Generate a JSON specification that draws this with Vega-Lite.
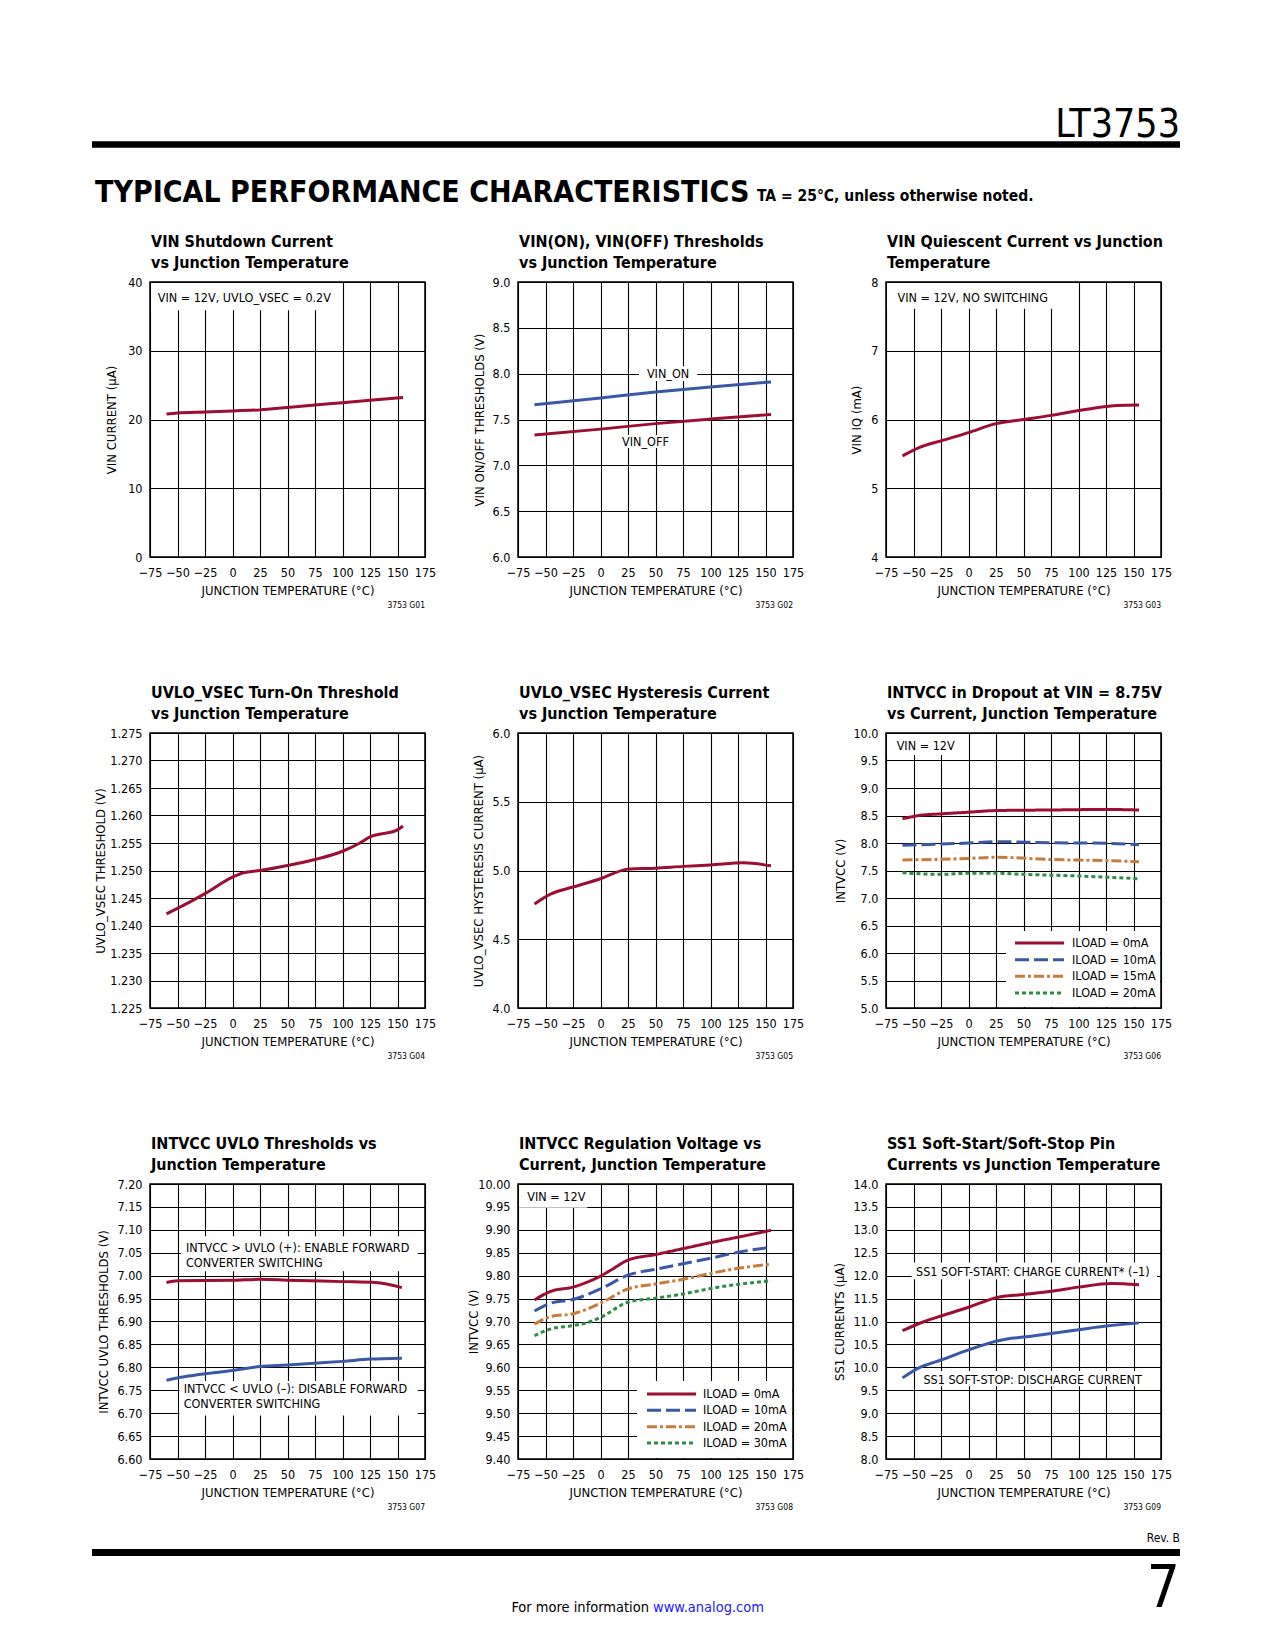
{
"$schema":"https://vega.github.io/schema/vega-lite/v6.json",
"background":"white",
"padding":{"left":88,"top":90,"right":10,"bottom":5},
"columns":3,
"spacing":{"row":176,"column":93},
"bounds":"flush",
"resolve":{"scale":{"color":"independent","strokeDash":"independent"}},
"datasets":{
"p1":[{"t":-60,"v":20.8},{"t":-50,"v":20.95},{"t":-25,"v":21.1},{"t":0,"v":21.25},{"t":25,"v":21.4},{"t":50,"v":21.75},{"t":75,"v":22.1},{"t":100,"v":22.45},{"t":125,"v":22.8},{"t":155,"v":23.2}],
"p2":[{"s":"VIN_ON","t":-60,"v":7.66},{"s":"VIN_ON","t":0,"v":7.735},{"s":"VIN_ON","t":50,"v":7.8},{"s":"VIN_ON","t":100,"v":7.855},{"s":"VIN_ON","t":155,"v":7.91},
{"s":"VIN_OFF","t":-60,"v":7.33},{"s":"VIN_OFF","t":0,"v":7.395},{"s":"VIN_OFF","t":50,"v":7.455},{"s":"VIN_OFF","t":100,"v":7.505},{"s":"VIN_OFF","t":155,"v":7.555}],
"p3":[{"t":-60,"v":5.47},{"t":-45,"v":5.59},{"t":-25,"v":5.69},{"t":0,"v":5.81},{"t":25,"v":5.94},{"t":50,"v":6.0},{"t":75,"v":6.06},{"t":100,"v":6.13},{"t":125,"v":6.19},{"t":135,"v":6.205},{"t":155,"v":6.21}],
"p4":[{"t":-60,"v":1.2421},{"t":-50,"v":1.2431},{"t":-25,"v":1.2458},{"t":0,"v":1.2488},{"t":10,"v":1.2496},{"t":25,"v":1.25},{"t":50,"v":1.2509},{"t":75,"v":1.252},{"t":100,"v":1.2535},{"t":115,"v":1.2549},{"t":125,"v":1.2561},{"t":150,"v":1.2574},{"t":155,"v":1.2581}],
"p5":[{"t":-60,"v":4.757},{"t":-45,"v":4.83},{"t":-25,"v":4.88},{"t":0,"v":4.94},{"t":25,"v":5.01},{"t":50,"v":5.017},{"t":75,"v":5.03},{"t":100,"v":5.04},{"t":130,"v":5.056},{"t":155,"v":5.034}],
"p6":[{"s":"ILOAD = 0mA","t":-60,"v":8.44},{"s":"ILOAD = 0mA","t":-45,"v":8.5},{"s":"ILOAD = 0mA","t":-25,"v":8.53},{"s":"ILOAD = 0mA","t":0,"v":8.56},{"s":"ILOAD = 0mA","t":25,"v":8.59},{"s":"ILOAD = 0mA","t":75,"v":8.6},{"s":"ILOAD = 0mA","t":125,"v":8.61},{"s":"ILOAD = 0mA","t":155,"v":8.6},
{"s":"ILOAD = 10mA","t":-60,"v":7.96},{"s":"ILOAD = 10mA","t":-25,"v":7.98},{"s":"ILOAD = 10mA","t":0,"v":8.0},{"s":"ILOAD = 10mA","t":25,"v":8.025},{"s":"ILOAD = 10mA","t":75,"v":8.005},{"s":"ILOAD = 10mA","t":125,"v":7.995},{"s":"ILOAD = 10mA","t":155,"v":7.97},
{"s":"ILOAD = 15mA","t":-60,"v":7.69},{"s":"ILOAD = 15mA","t":0,"v":7.72},{"s":"ILOAD = 15mA","t":25,"v":7.74},{"s":"ILOAD = 15mA","t":75,"v":7.7},{"s":"ILOAD = 15mA","t":125,"v":7.68},{"s":"ILOAD = 15mA","t":155,"v":7.66},
{"s":"ILOAD = 20mA","t":-60,"v":7.46},{"s":"ILOAD = 20mA","t":-25,"v":7.43},{"s":"ILOAD = 20mA","t":0,"v":7.45},{"s":"ILOAD = 20mA","t":25,"v":7.45},{"s":"ILOAD = 20mA","t":50,"v":7.43},{"s":"ILOAD = 20mA","t":100,"v":7.4},{"s":"ILOAD = 20mA","t":155,"v":7.35}],
"leg6":[{"s":"ILOAD = 0mA"},{"s":"ILOAD = 10mA"},{"s":"ILOAD = 15mA"},{"s":"ILOAD = 20mA"}],
"p7":[{"s":"plus","t":-60,"v":6.985},{"s":"plus","t":-50,"v":6.989},{"s":"plus","t":0,"v":6.99},{"s":"plus","t":25,"v":6.992},{"s":"plus","t":50,"v":6.99},{"s":"plus","t":100,"v":6.987},{"s":"plus","t":130,"v":6.985},{"s":"plus","t":154,"v":6.974},
{"s":"minus","t":-60,"v":6.772},{"s":"minus","t":-40,"v":6.781},{"s":"minus","t":-25,"v":6.786},{"s":"minus","t":0,"v":6.793},{"s":"minus","t":25,"v":6.802},{"s":"minus","t":50,"v":6.805},{"s":"minus","t":75,"v":6.809},{"s":"minus","t":100,"v":6.813},{"s":"minus","t":125,"v":6.818},{"s":"minus","t":154,"v":6.82}],
"p8":[{"s":"ILOAD = 0mA","t":-60,"v":9.747},{"s":"ILOAD = 0mA","t":-45,"v":9.766},{"s":"ILOAD = 0mA","t":-25,"v":9.775},{"s":"ILOAD = 0mA","t":-10,"v":9.788},{"s":"ILOAD = 0mA","t":0,"v":9.799},{"s":"ILOAD = 0mA","t":10,"v":9.813},{"s":"ILOAD = 0mA","t":25,"v":9.834},{"s":"ILOAD = 0mA","t":50,"v":9.846},{"s":"ILOAD = 0mA","t":75,"v":9.859},{"s":"ILOAD = 0mA","t":100,"v":9.872},{"s":"ILOAD = 0mA","t":125,"v":9.884},{"s":"ILOAD = 0mA","t":155,"v":9.899},
{"s":"ILOAD = 10mA","t":-60,"v":9.723},{"s":"ILOAD = 10mA","t":-45,"v":9.74},{"s":"ILOAD = 10mA","t":-25,"v":9.748},{"s":"ILOAD = 10mA","t":0,"v":9.771},{"s":"ILOAD = 10mA","t":25,"v":9.801},{"s":"ILOAD = 10mA","t":50,"v":9.814},{"s":"ILOAD = 10mA","t":75,"v":9.826},{"s":"ILOAD = 10mA","t":100,"v":9.838},{"s":"ILOAD = 10mA","t":125,"v":9.851},{"s":"ILOAD = 10mA","t":155,"v":9.862},
{"s":"ILOAD = 20mA","t":-60,"v":9.694},{"s":"ILOAD = 20mA","t":-45,"v":9.711},{"s":"ILOAD = 20mA","t":-25,"v":9.717},{"s":"ILOAD = 20mA","t":-10,"v":9.729},{"s":"ILOAD = 20mA","t":0,"v":9.74},{"s":"ILOAD = 20mA","t":25,"v":9.771},{"s":"ILOAD = 20mA","t":50,"v":9.782},{"s":"ILOAD = 20mA","t":75,"v":9.792},{"s":"ILOAD = 20mA","t":100,"v":9.805},{"s":"ILOAD = 20mA","t":125,"v":9.816},{"s":"ILOAD = 20mA","t":155,"v":9.825},
{"s":"ILOAD = 30mA","t":-60,"v":9.669},{"s":"ILOAD = 30mA","t":-45,"v":9.684},{"s":"ILOAD = 30mA","t":-25,"v":9.691},{"s":"ILOAD = 30mA","t":-10,"v":9.699},{"s":"ILOAD = 30mA","t":0,"v":9.709},{"s":"ILOAD = 30mA","t":25,"v":9.742},{"s":"ILOAD = 30mA","t":50,"v":9.751},{"s":"ILOAD = 30mA","t":75,"v":9.76},{"s":"ILOAD = 30mA","t":100,"v":9.772},{"s":"ILOAD = 30mA","t":125,"v":9.781},{"s":"ILOAD = 30mA","t":155,"v":9.789}],
"leg8":[{"s":"ILOAD = 0mA"},{"s":"ILOAD = 10mA"},{"s":"ILOAD = 20mA"},{"s":"ILOAD = 30mA"}],
"p9":[{"s":"start","t":-60,"v":10.8},{"s":"start","t":-40,"v":11.0},{"s":"start","t":-25,"v":11.12},{"s":"start","t":0,"v":11.31},{"s":"start","t":25,"v":11.52},{"s":"start","t":50,"v":11.59},{"s":"start","t":75,"v":11.66},{"s":"start","t":100,"v":11.75},{"s":"start","t":130,"v":11.83},{"s":"start","t":155,"v":11.8},
{"s":"stop","t":-60,"v":9.77},{"s":"stop","t":-45,"v":9.99},{"s":"stop","t":-40,"v":10.04},{"s":"stop","t":-25,"v":10.16},{"s":"stop","t":0,"v":10.38},{"s":"stop","t":25,"v":10.57},{"s":"stop","t":35,"v":10.62},{"s":"stop","t":50,"v":10.66},{"s":"stop","t":75,"v":10.74},{"s":"stop","t":100,"v":10.82},{"s":"stop","t":125,"v":10.9},{"s":"stop","t":155,"v":10.97}]
},
"concat":[
{"width":275,"height":16,"view":{"stroke":null},"data":{"values":[{}]},
 "layer":[
  {"mark":{"type":"rule","strokeWidth":6.5,"color":"black"},"encoding":{"x":{"value":-58},"x2":{"value":1030},"y":{"value":54.5}}},
  {"mark":{"type":"text","text":"TYPICAL PERFORMANCE CHARACTERISTICS","fontSize":30,"fontWeight":"bold","align":"left"},"encoding":{"x":{"value":-55},"y":{"value":112}}}
 ]},
{"width":275,"height":16,"view":{"stroke":null},"data":{"values":[{}]},
 "mark":{"type":"text","text":"TA = 25°C, unless otherwise noted.","fontSize":15.5,"fontWeight":"bold","align":"left"},"encoding":{"x":{"value":239},"y":{"value":111}}},
{"width":275,"height":16,"view":{"stroke":null},"data":{"values":[{}]},
 "mark":{"type":"text","text":"LT3753","fontSize":39,"align":"right"},"encoding":{"x":{"value":294},"y":{"value":47}}},

{"width":275,"height":275,"title":{"text":["VIN Shutdown Current","vs Junction Temperature"]},
 "layer":[
  {"data":{"values":[{}]},"mark":{"type":"rect","fill":"white"},"encoding":{"x":{"datum":-74.1},"x2":{"datum":90},"y":{"datum":39.85},"y2":{"datum":35.9}}},
  {"data":{"name":"p1"},"mark":{"type":"line","interpolate":"monotone","color":"#9b0f34"},
   "encoding":{"x":{"field":"t","type":"quantitative","scale":{"domain":[-75,175],"nice":false},"axis":{"values":[-75,-50,-25,0,25,50,75,100,125,150,175],"tickCount":20,"format":"d","title":"JUNCTION TEMPERATURE (°C)"}},
   "y":{"field":"v","type":"quantitative","scale":{"domain":[0,40],"nice":false},"axis":{"values":[0,10,20,30,40],"tickCount":20,"format":"d","title":"VIN CURRENT (μA)","titleX":-32}}}},
  {"data":{"values":[{}]},"mark":{"type":"text","text":"VIN = 12V, UVLO_VSEC = 0.2V","align":"left"},"encoding":{"x":{"datum":-68},"y":{"datum":37.1}}},
  {"data":{"values":[{}]},"mark":{"type":"text","text":"3753 G01","fontSize":8.5,"align":"right"},"encoding":{"x":{"datum":175},"y":{"value":326}}}
 ]},

{"width":275,"height":275,"title":{"text":["VIN(ON), VIN(OFF) Thresholds","vs Junction Temperature"]},
 "layer":[
  {"data":{"name":"p2"},"mark":{"type":"line","interpolate":"monotone"},
   "encoding":{"x":{"field":"t","type":"quantitative","scale":{"domain":[-75,175],"nice":false},"axis":{"values":[-75,-50,-25,0,25,50,75,100,125,150,175],"tickCount":20,"format":"d","title":"JUNCTION TEMPERATURE (°C)"}},
   "y":{"field":"v","type":"quantitative","scale":{"domain":[6,9],"nice":false,"zero":false},"axis":{"values":[6,6.5,7,7.5,8,8.5,9],"tickCount":20,"format":".1f","title":"VIN ON/OFF THRESHOLDS (V)","titleX":-32}},
   "color":{"field":"s","type":"nominal","scale":{"domain":["VIN_ON","VIN_OFF"],"range":["#3b58a7","#9b0f34"]},"legend":null}}},
  {"data":{"values":[{}]},"mark":{"type":"rect","fill":"white"},"encoding":{"x":{"datum":35},"x2":{"datum":88},"y":{"datum":7.92},"y2":{"datum":8.08}}},
  {"data":{"values":[{}]},"mark":{"type":"text","text":"VIN_ON","align":"center","baseline":"middle"},"encoding":{"x":{"datum":61.4},"y":{"datum":8.0}}},
  {"data":{"values":[{}]},"mark":{"type":"rect","fill":"white"},"encoding":{"x":{"datum":17},"x2":{"datum":65},"y":{"datum":7.19},"y2":{"datum":7.33}}},
  {"data":{"values":[{}]},"mark":{"type":"text","text":"VIN_OFF","align":"center","baseline":"middle"},"encoding":{"x":{"datum":40.9},"y":{"datum":7.26}}},
  {"data":{"values":[{}]},"mark":{"type":"text","text":"3753 G02","fontSize":8.5,"align":"right"},"encoding":{"x":{"datum":175},"y":{"value":326}}}
 ]},

{"width":275,"height":275,"title":{"text":["VIN Quiescent Current vs Junction","Temperature"]},
 "layer":[
  {"data":{"values":[{}]},"mark":{"type":"rect","fill":"white"},"encoding":{"x":{"datum":-74.1},"x2":{"datum":88},"y":{"datum":7.985},"y2":{"datum":7.61}}},
  {"data":{"name":"p3"},"mark":{"type":"line","interpolate":"monotone","color":"#9b0f34"},
   "encoding":{"x":{"field":"t","type":"quantitative","scale":{"domain":[-75,175],"nice":false},"axis":{"values":[-75,-50,-25,0,25,50,75,100,125,150,175],"tickCount":20,"format":"d","title":"JUNCTION TEMPERATURE (°C)"}},
   "y":{"field":"v","type":"quantitative","scale":{"domain":[4,8],"nice":false,"zero":false},"axis":{"values":[4,5,6,7,8],"tickCount":20,"format":"d","title":"VIN IQ (mA)","titleX":-23}}}},
  {"data":{"values":[{}]},"mark":{"type":"text","text":"VIN = 12V, NO SWITCHING","align":"left"},"encoding":{"x":{"datum":-64.6},"y":{"datum":7.71}}},
  {"data":{"values":[{}]},"mark":{"type":"text","text":"3753 G03","fontSize":8.5,"align":"right"},"encoding":{"x":{"datum":175},"y":{"value":326}}}
 ]},

{"width":275,"height":275,"title":{"text":["UVLO_VSEC Turn-On Threshold","vs Junction Temperature"]},
 "layer":[
  {"data":{"name":"p4"},"mark":{"type":"line","interpolate":"monotone","color":"#9b0f34"},
   "encoding":{"x":{"field":"t","type":"quantitative","scale":{"domain":[-75,175],"nice":false},"axis":{"values":[-75,-50,-25,0,25,50,75,100,125,150,175],"tickCount":20,"format":"d","title":"JUNCTION TEMPERATURE (°C)"}},
   "y":{"field":"v","type":"quantitative","scale":{"domain":[1.225,1.275],"nice":false,"zero":false},"axis":{"values":[1.225,1.23,1.235,1.24,1.245,1.25,1.255,1.26,1.265,1.27,1.275],"tickCount":20,"format":".3f","title":"UVLO_VSEC THRESHOLD (V)","titleX":-43}}}},
  {"data":{"values":[{}]},"mark":{"type":"text","text":"3753 G04","fontSize":8.5,"align":"right"},"encoding":{"x":{"datum":175},"y":{"value":326}}}
 ]},

{"width":275,"height":275,"title":{"text":["UVLO_VSEC Hysteresis Current","vs Junction Temperature"]},
 "layer":[
  {"data":{"name":"p5"},"mark":{"type":"line","interpolate":"monotone","color":"#9b0f34"},
   "encoding":{"x":{"field":"t","type":"quantitative","scale":{"domain":[-75,175],"nice":false},"axis":{"values":[-75,-50,-25,0,25,50,75,100,125,150,175],"tickCount":20,"format":"d","title":"JUNCTION TEMPERATURE (°C)"}},
   "y":{"field":"v","type":"quantitative","scale":{"domain":[4,6],"nice":false,"zero":false},"axis":{"values":[4,4.5,5,5.5,6],"tickCount":20,"format":".1f","title":"UVLO_VSEC HYSTERESIS CURRENT (μA)","titleX":-33}}}},
  {"data":{"values":[{}]},"mark":{"type":"text","text":"3753 G05","fontSize":8.5,"align":"right"},"encoding":{"x":{"datum":175},"y":{"value":326}}}
 ]},

{"width":275,"height":275,"title":{"text":["INTVCC in Dropout at VIN = 8.75V","vs Current, Junction Temperature"]},
 "resolve":{"scale":{"y":"independent"}},
 "layer":[
  {"layer":[
   {"data":{"values":[{}]},"mark":{"type":"rect","fill":"white"},"encoding":{"x":{"datum":-74.1},"x2":{"datum":-10},"y":{"datum":9.982},"y2":{"datum":9.6}}},
   {"data":{"name":"p6"},"mark":{"type":"line","interpolate":"monotone"},
    "encoding":{"x":{"field":"t","type":"quantitative","scale":{"domain":[-75,175],"nice":false},"axis":{"values":[-75,-50,-25,0,25,50,75,100,125,150,175],"tickCount":20,"format":"d","title":"JUNCTION TEMPERATURE (°C)"}},
    "y":{"field":"v","type":"quantitative","scale":{"domain":[5,10],"nice":false,"zero":false},"axis":{"values":[5,5.5,6,6.5,7,7.5,8,8.5,9,9.5,10],"tickCount":20,"format":".1f","title":"INTVCC (V)","titleX":-39}},
    "color":{"field":"s","type":"nominal","scale":{"domain":["ILOAD = 0mA","ILOAD = 10mA","ILOAD = 15mA","ILOAD = 20mA"],"range":["#9b0f34","#3b58a7","#c67c3c","#2f8c46"]},"legend":null},
    "strokeDash":{"field":"s","type":"nominal","scale":{"domain":["ILOAD = 0mA","ILOAD = 10mA","ILOAD = 15mA","ILOAD = 20mA"],"range":[[1,0],[14,5],[10,3,3,3],[4,3]]},"legend":null}}},
   {"data":{"values":[{}]},"mark":{"type":"text","text":"VIN = 12V","align":"left"},"encoding":{"x":{"datum":-65.3},"y":{"datum":9.69}}},
   {"data":{"values":[{}]},"mark":{"type":"text","text":"3753 G06","fontSize":8.5,"align":"right"},"encoding":{"x":{"datum":175},"y":{"value":326}}}
  ]},
  {"layer":[
   {"data":{"values":[{}]},"mark":{"type":"rect","fill":"white"},"encoding":{"x":{"value":120},"x2":{"value":274},"y":{"value":198},"y2":{"value":274}}},
   {"data":{"name":"leg6"},"mark":{"type":"rule","strokeWidth":3},
    "encoding":{"x":{"value":129},"x2":{"value":178},
    "y":{"field":"s","type":"ordinal","scale":{"type":"point","domain":["ILOAD = 0mA","ILOAD = 10mA","ILOAD = 15mA","ILOAD = 20mA"],"range":[210,260],"padding":0},"axis":null},
    "color":{"field":"s","type":"nominal","scale":{"domain":["ILOAD = 0mA","ILOAD = 10mA","ILOAD = 15mA","ILOAD = 20mA"],"range":["#9b0f34","#3b58a7","#c67c3c","#2f8c46"]},"legend":null},
    "strokeDash":{"field":"s","type":"nominal","scale":{"domain":["ILOAD = 0mA","ILOAD = 10mA","ILOAD = 15mA","ILOAD = 20mA"],"range":[[1,0],[14,5],[10,3,3,3],[4,3]]},"legend":null}}},
   {"data":{"name":"leg6"},"mark":{"type":"text","align":"left","baseline":"middle","fontSize":12.5},
    "encoding":{"x":{"value":186},"y":{"field":"s","type":"ordinal"},"text":{"field":"s"}}}
  ]}
 ]},

{"width":275,"height":275,"title":{"text":["INTVCC UVLO Thresholds vs","Junction Temperature"]},
 "layer":[
  {"data":{"values":[{}]},"mark":{"type":"rect","fill":"white"},"encoding":{"x":{"datum":-47},"x2":{"datum":168.4},"y":{"datum":7.086},"y2":{"datum":7.0095}}},
  {"data":{"values":[{}]},"mark":{"type":"rect","fill":"white"},"encoding":{"x":{"datum":-48.3},"x2":{"datum":168.4},"y":{"datum":6.77},"y2":{"datum":6.695}}},
  {"data":{"name":"p7"},"mark":{"type":"line","interpolate":"monotone"},
   "encoding":{"x":{"field":"t","type":"quantitative","scale":{"domain":[-75,175],"nice":false},"axis":{"values":[-75,-50,-25,0,25,50,75,100,125,150,175],"tickCount":20,"format":"d","title":"JUNCTION TEMPERATURE (°C)"}},
   "y":{"field":"v","type":"quantitative","scale":{"domain":[6.6,7.2],"nice":false,"zero":false},"axis":{"values":[6.6,6.65,6.7,6.75,6.8,6.85,6.9,6.95,7.0,7.05,7.1,7.15,7.2],"tickCount":20,"format":".2f","title":"INTVCC UVLO THRESHOLDS (V)","titleX":-40}},
   "color":{"field":"s","type":"nominal","scale":{"domain":["plus","minus"],"range":["#9b0f34","#3b58a7"]},"legend":null}}},
  {"data":{"values":[{}]},"mark":{"type":"text","text":["INTVCC > UVLO (+): ENABLE FORWARD","CONVERTER SWITCHING"],"align":"left","lineHeight":15.5},"encoding":{"x":{"datum":-42.3},"y":{"datum":7.052}}},
  {"data":{"values":[{}]},"mark":{"type":"text","text":["INTVCC < UVLO (–): DISABLE FORWARD","CONVERTER SWITCHING"],"align":"left","lineHeight":15.5},"encoding":{"x":{"datum":-44.4},"y":{"datum":6.745}}},
  {"data":{"values":[{}]},"mark":{"type":"text","text":"3753 G07","fontSize":8.5,"align":"right"},"encoding":{"x":{"datum":175},"y":{"value":326}}}
 ]},

{"width":275,"height":275,"title":{"text":["INTVCC Regulation Voltage vs","Current, Junction Temperature"]},
 "resolve":{"scale":{"y":"independent"}},
 "layer":[
  {"layer":[
   {"data":{"values":[{}]},"mark":{"type":"rect","fill":"white"},"encoding":{"x":{"datum":-74.1},"x2":{"datum":-12},"y":{"datum":9.998},"y2":{"datum":9.948}}},
   {"data":{"name":"p8"},"mark":{"type":"line","interpolate":"monotone"},
    "encoding":{"x":{"field":"t","type":"quantitative","scale":{"domain":[-75,175],"nice":false},"axis":{"values":[-75,-50,-25,0,25,50,75,100,125,150,175],"tickCount":20,"format":"d","title":"JUNCTION TEMPERATURE (°C)"}},
    "y":{"field":"v","type":"quantitative","scale":{"domain":[9.4,10],"nice":false,"zero":false},"axis":{"values":[9.4,9.45,9.5,9.55,9.6,9.65,9.7,9.75,9.8,9.85,9.9,9.95,10],"tickCount":20,"format":".2f","title":"INTVCC (V)","titleX":-38}},
    "color":{"field":"s","type":"nominal","scale":{"domain":["ILOAD = 0mA","ILOAD = 10mA","ILOAD = 20mA","ILOAD = 30mA"],"range":["#9b0f34","#3b58a7","#c67c3c","#2f8c46"]},"legend":null},
    "strokeDash":{"field":"s","type":"nominal","scale":{"domain":["ILOAD = 0mA","ILOAD = 10mA","ILOAD = 20mA","ILOAD = 30mA"],"range":[[1,0],[14,5],[10,3,3,3],[4,3]]},"legend":null}}},
   {"data":{"values":[{}]},"mark":{"type":"text","text":"VIN = 12V","align":"left"},"encoding":{"x":{"datum":-66.5},"y":{"datum":9.962}}},
   {"data":{"values":[{}]},"mark":{"type":"text","text":"3753 G08","fontSize":8.5,"align":"right"},"encoding":{"x":{"datum":175},"y":{"value":326}}}
  ]},
  {"layer":[
   {"data":{"values":[{}]},"mark":{"type":"rect","fill":"white"},"encoding":{"x":{"value":119},"x2":{"value":274},"y":{"value":197},"y2":{"value":274}}},
   {"data":{"name":"leg8"},"mark":{"type":"rule","strokeWidth":3},
    "encoding":{"x":{"value":129},"x2":{"value":178},
    "y":{"field":"s","type":"ordinal","scale":{"type":"point","domain":["ILOAD = 0mA","ILOAD = 10mA","ILOAD = 20mA","ILOAD = 30mA"],"range":[210,259],"padding":0},"axis":null},
    "color":{"field":"s","type":"nominal","scale":{"domain":["ILOAD = 0mA","ILOAD = 10mA","ILOAD = 20mA","ILOAD = 30mA"],"range":["#9b0f34","#3b58a7","#c67c3c","#2f8c46"]},"legend":null},
    "strokeDash":{"field":"s","type":"nominal","scale":{"domain":["ILOAD = 0mA","ILOAD = 10mA","ILOAD = 20mA","ILOAD = 30mA"],"range":[[1,0],[14,5],[10,3,3,3],[4,3]]},"legend":null}}},
   {"data":{"name":"leg8"},"mark":{"type":"text","align":"left","baseline":"middle","fontSize":12.5},
    "encoding":{"x":{"value":185},"y":{"field":"s","type":"ordinal"},"text":{"field":"s"}}}
  ]}
 ]},

{"width":275,"height":275,"title":{"text":["SS1 Soft-Start/Soft-Stop Pin","Currents vs Junction Temperature"]},
 "layer":[
  {"data":{"values":[{}]},"mark":{"type":"rect","fill":"white"},"encoding":{"x":{"datum":-51.7},"x2":{"datum":171.4},"y":{"datum":12.29},"y2":{"datum":11.92}}},
  {"data":{"values":[{}]},"mark":{"type":"rect","fill":"white"},"encoding":{"x":{"datum":-44},"x2":{"datum":163},"y":{"datum":9.92},"y2":{"datum":9.59}}},
  {"data":{"name":"p9"},"mark":{"type":"line","interpolate":"monotone"},
   "encoding":{"x":{"field":"t","type":"quantitative","scale":{"domain":[-75,175],"nice":false},"axis":{"values":[-75,-50,-25,0,25,50,75,100,125,150,175],"tickCount":20,"format":"d","title":"JUNCTION TEMPERATURE (°C)"}},
   "y":{"field":"v","type":"quantitative","scale":{"domain":[8,14],"nice":false,"zero":false},"axis":{"values":[8,8.5,9,9.5,10,10.5,11,11.5,12,12.5,13,13.5,14],"tickCount":20,"format":".1f","title":"SS1 CURRENTS (μA)","titleX":-40}},
   "color":{"field":"s","type":"nominal","scale":{"domain":["start","stop"],"range":["#9b0f34","#3b58a7"]},"legend":null}}},
  {"data":{"values":[{}]},"mark":{"type":"text","text":"SS1 SOFT-START: CHARGE CURRENT* (–1)","align":"left"},"encoding":{"x":{"datum":-47.7},"y":{"datum":11.99}}},
  {"data":{"values":[{}]},"mark":{"type":"text","text":"SS1 SOFT-STOP: DISCHARGE CURRENT","align":"left"},"encoding":{"x":{"datum":-41},"y":{"datum":9.645}}},
  {"data":{"values":[{}]},"mark":{"type":"text","text":"3753 G09","fontSize":8.5,"align":"right"},"encoding":{"x":{"datum":175},"y":{"value":326}}}
 ]},

{"width":275,"height":10,"view":{"stroke":null},"data":{"values":[{}]},
 "layer":[
  {"mark":{"type":"rule","strokeWidth":7,"color":"black"},"encoding":{"x":{"value":-58},"x2":{"value":1030},"y":{"value":-82.5}}},
  {"mark":{"type":"text","text":"Rev. B","fontSize":12,"align":"right"},"encoding":{"x":{"value":1030},"y":{"value":-93}}},
  {"mark":{"type":"text","text":"7","fontSize":58,"align":"right"},"encoding":{"x":{"value":1030},"y":{"value":-28}}},
  {"mark":{"type":"text","text":"For more information","fontSize":14.5,"align":"right"},"encoding":{"x":{"value":499},"y":{"value":-23}}},
  {"mark":{"type":"text","text":"www.analog.com","fontSize":14.5,"align":"left","color":"#1a1aff"},"encoding":{"x":{"value":503},"y":{"value":-23}}}
 ]}
],
"config":{
 "font":"DejaVu Sans Condensed",
 "view":{"stroke":"black","strokeWidth":1.5},
 "axis":{"grid":true,"gridColor":"black","gridWidth":1.1,"gridOpacity":1,"domain":false,"ticks":false,"labelFontSize":12.5,"labelColor":"black","titleFontSize":13,"titleFontWeight":"normal","titleColor":"black","labelOverlap":false,"labelFlush":false,"labelBound":false},
 "axisX":{"labelPadding":9,"titlePadding":6},
 "axisY":{"labelPadding":8,"titlePadding":6},
 "title":{"anchor":"start","frame":"group","fontSize":16,"fontWeight":"bold","color":"black","lineHeight":21,"offset":5,"dx":1},
 "text":{"fontSize":12.5,"color":"black","baseline":"alphabetic"},
 "line":{"strokeWidth":3},
 "rule":{"color":"black"}
}
}
